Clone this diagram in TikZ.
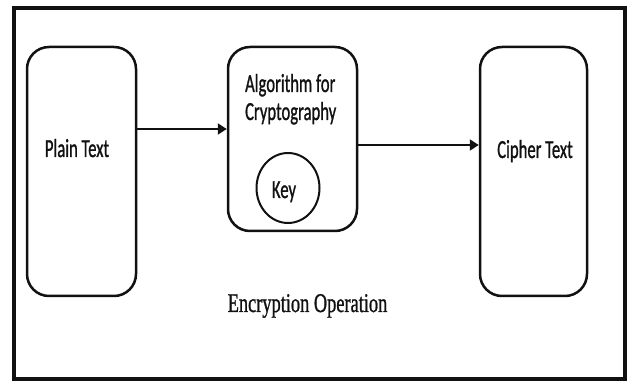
\documentclass[tikz,border=0pt]{standalone}
\usepackage{fontspec}
\setmainfont{Carlito}
\newfontfamily\boxfont{Carlito}[FakeBold=1.2]
\newfontfamily\capfont{Liberation Serif}[FakeBold=1.2]
\usepackage{tikz}
\usetikzlibrary{calc,arrows.meta,positioning,shapes.geometric}
\definecolor{ink}{HTML}{111111}
\tikzset{
  ar/.style={-{Triangle[length=9pt,width=11pt]},line width=2pt,ink},
  box/.style={draw=ink,line width=2.5pt,rounded corners=22pt,inner sep=0pt},
  lbl/.style={font=\boxfont\fontsize{26}{28}\selectfont,xscale=0.64,ink,inner sep=0pt},
  frame/.style={draw=ink,line width=4pt}
}
\begin{document}
\begin{tikzpicture}[x=1pt,y=-1pt]
\useasboundingbox (0,0) rectangle (627,382);
\draw[frame] (14,8) rectangle (625,379);
\node[box,minimum width=109,minimum height=249] (plain) at (81.5,171.5) {};
\node[box,minimum width=129,minimum height=184] (alg) at (292.5,139) {};
\node[box,minimum width=107,minimum height=249] (ciph) at (533.5,171.5) {};
\node[draw=ink,line width=2pt,ellipse,minimum width=63,minimum height=70,inner sep=0pt] (key) at (288,188) {};
\node[lbl,anchor=base] (plaintxt) at (77,157) {Plain Text};
\node[lbl,anchor=base] (ciphtxt) at (535,158) {Cipher Text};
\node[lbl,anchor=base west,align=left] (algtxt) at (245,120) {Algorithm for\\Cryptography};
\node[lbl,anchor=base] (keytxt) at (284,198) {Key};
\node[font=\capfont\fontsize{27}{30}\selectfont,xscale=0.68,ink,anchor=base] (caption) at (307.5,312) {Encryption Operation};
\draw[ar] ([yshift=42.5pt]plain.east) coordinate (a1) -- (a1 -| alg.west);
\draw[ar] ([yshift=-6pt]alg.east) coordinate (a2) -- (a2 -| ciph.west);
\end{tikzpicture}
\end{document}
